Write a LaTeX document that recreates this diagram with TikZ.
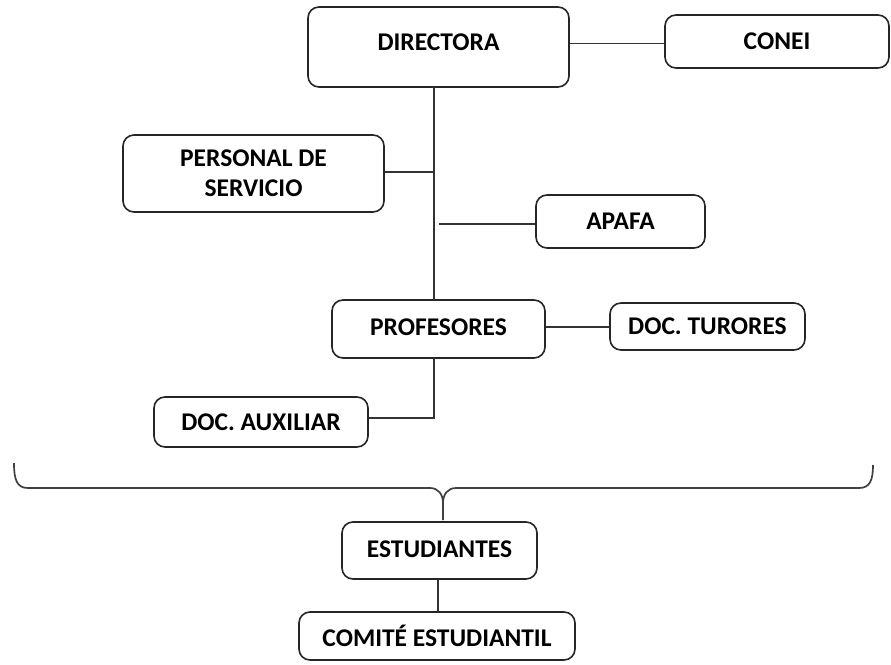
\documentclass[tikz,border=0pt]{standalone}
\usepackage{fontspec}
\setmainfont{Carlito}
\begin{document}
\begin{tikzpicture}[x=1pt,y=-1pt,
  box/.style={draw=black!85, line width=1.6pt, rounded corners=11pt, fill=white,
    font=\fontsize{25.5}{28}\selectfont\bfseries, align=center, inner sep=0pt},
  conn/.style={draw=black!80, line width=1.6pt},
  brace/.style={draw=black!75, line width=1.7pt}]
\useasboundingbox[fill=white] (0,0) rectangle (891,664);
% boxes
\node[box, minimum width=261pt, minimum height=80pt] (dir) at (438.5,47) {\raisebox{10pt}{DIRECTORA}};
\node[box, minimum width=224pt, minimum height=53pt] (conei) at (777,41.5) {CONEI};
\node[box, minimum width=261pt, minimum height=77pt] (pers) at (253.5,173.5) {PERSONAL DE\\[2pt]SERVICIO};
\node[box, minimum width=169pt, minimum height=53pt] (apafa) at (620.5,221.5) {APAFA};
\node[box, minimum width=213pt, minimum height=58pt] (prof) at (438.5,329) {\raisebox{4pt}{PROFESORES}};
\node[box, minimum width=195pt, minimum height=47pt] (tut) at (707.5,326.5) {DOC. TURORES};
\node[box, minimum width=214pt, minimum height=50pt] (aux) at (261,422) {DOC. AUXILIAR};
\node[box, minimum width=195pt, minimum height=57pt] (est) at (439.5,550.5) {\raisebox{2pt}{ESTUDIANTES}};
\node[box, minimum width=276pt, minimum height=48pt] (com) at (437,636) {COMITÉ ESTUDIANTIL};
% helper coordinates
\coordinate (vtop) at (434,87);
\coordinate (vbot) at (434,300);
\coordinate (jp) at (434,172);
\coordinate (ja) at (439,224);
\coordinate (pb) at (434,358);
\coordinate (jx) at (434,418);
% connectors
\draw[conn] (dir.east |- 0,43.5) -- (conei.west |- 0,43.5);
\draw[conn] (vtop) -- (vbot);
\draw[conn] (pers.east |- jp) -- (jp);
\draw[conn] (ja) -- (apafa.west |- ja);
\draw[conn] (prof.east |- 0,327) -- (tut.west |- 0,327);
\draw[conn] (pb) -- (jx) -- (aux.east |- jx);
\draw[conn] (est.south -| 438,0) -- (com.north -| 438,0);
% brace
\coordinate (bl) at (14,463);
\coordinate (br) at (873,465);
\coordinate (bt) at (443,520);
\draw[brace] (bl) .. controls (14,480) and (17,488) .. (28,488) -- (430,488)
  .. controls (438,488) and (443,494) .. (443,503) -- (bt);
\draw[brace] (br) .. controls (873,480) and (870,488) .. (859,488) -- (456,488)
  .. controls (448,488) and (443,494) .. (443,503);
\end{tikzpicture}
\end{document}
